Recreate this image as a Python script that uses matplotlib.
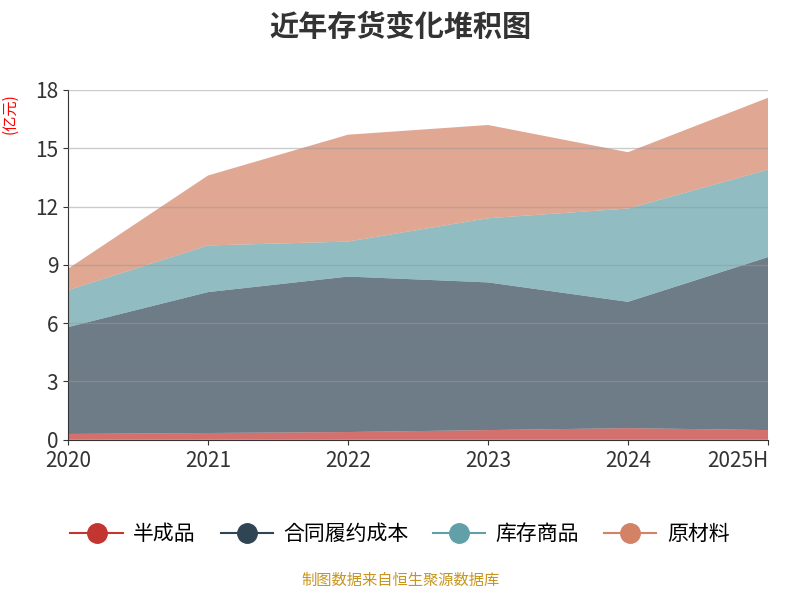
import matplotlib
matplotlib.use("Agg")
import matplotlib.pyplot as plt
from matplotlib.lines import Line2D

plt.rcParams["font.family"] = ["Noto Sans CJK JP", "Noto Sans CJK SC", "DejaVu Sans"]

years = ["2020", "2021", "2022", "2023", "2024", "2025H"]
names = ["半成品", "合同履约成本", "库存商品", "原材料"]
banchengpin = [0.3, 0.35, 0.4, 0.5, 0.6, 0.5]
hetong = [5.5, 7.25, 8.0, 7.6, 6.5, 8.9]
kucun = [1.9, 2.4, 1.8, 3.3, 4.8, 4.5]
yuancailiao = [1.1, 3.6, 5.5, 4.8, 2.9, 3.7]
colors = ["#c23531", "#2f4554", "#61a0a8", "#d48265"]

fig = plt.figure(figsize=(8, 6), dpi=100)
ax = fig.add_axes([0.085, 0.267, 0.875, 0.583])
x = list(range(len(years)))
ax.stackplot(x, banchengpin, hetong, kucun, yuancailiao, colors=colors, alpha=0.7, linewidth=0)
ax.set_xlim(0, 5)
ax.set_ylim(0, 18)
ax.set_yticks([0, 3, 6, 9, 12, 15, 18])
ax.set_xticks(x)
ax.set_xticklabels(years)
ax.tick_params(labelsize=15, colors="#333333")
for lab in ax.get_xticklabels():
    lab.set_horizontalalignment("center")
ax.get_xticklabels()[-1].set_horizontalalignment("right")
ax.get_xticklabels()[-1].set_x(5)
ax.grid(axis="y", color="#999999", linewidth=1, alpha=0.5)
ax.set_axisbelow(False)
for s in ["top", "right"]:
    ax.spines[s].set_visible(False)
ax.spines["left"].set_color("#333333")
ax.spines["bottom"].set_color("#333333")
fig.text(0.012, 0.845, "(亿元)", rotation=90, color="red", fontsize=11, ha="center", va="top")
fig.text(0.5, 0.955, "近年存货变化堆积图", ha="center", va="center", fontsize=21,
         fontweight="bold", color="#333333")
handles = [Line2D([0], [0], color=c, marker="o", markersize=14, linewidth=1.5) for c in colors]
fig.legend(handles, names, loc="center", bbox_to_anchor=(0.5, 0.11), ncol=4, frameon=False,
           fontsize=15, handlelength=2.5, columnspacing=1.2, handletextpad=0.5)
fig.text(0.5, 0.018, "制图数据来自恒生聚源数据库", ha="center", va="bottom", fontsize=11, color="#c8961e")
fig.savefig("out.png")
